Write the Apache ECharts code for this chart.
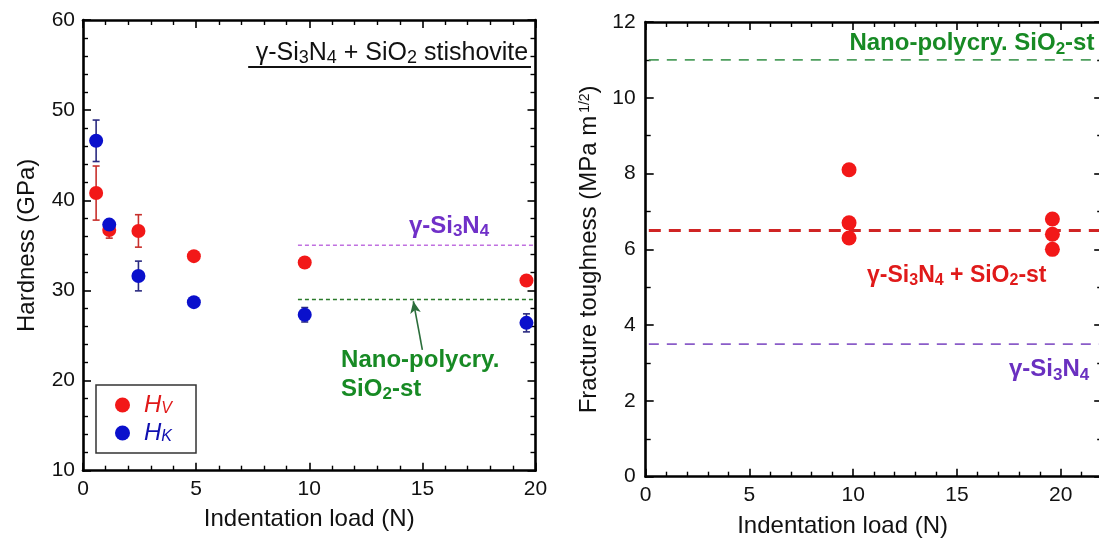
<!DOCTYPE html>
<html>
<head>
<meta charset="utf-8">
<script src="https://cdn.jsdelivr.net/npm/echarts@6/dist/echarts.min.js"></script>
<style>
html,body{margin:0;padding:0;background:#fff;}
#c{width:1099px;height:543px;}
</style>
</head>
<body>
<div id="c"></div>
<script>
// ---------- DATA ----------
const loads = [0.58, 1.16, 2.45, 4.9, 9.8, 19.6];
const hv = [40.8, 36.7, 36.6, 33.8, 33.1, 31.1];
const hvErr = [3.0, 0.9, 1.8, 0, 0, 0];
const hk = [46.6, 37.3, 31.6, 28.7, 27.3, 26.4];
const hkErr = [2.3, 0, 1.65, 0, 0.8, 1.0];

const kcLoads = [9.8, 9.8, 9.8, 19.6, 19.6, 19.6];
const kc = [8.1, 6.7, 6.3, 6.8, 6.4, 6.0];

const hardRefX = [9.5, 20];
const hardGammaRef = 35.0;
const hardNanoRef = 29.0;

const kcRefX = [0.15, 22];
const kcNanoRef = 11.0;
const kcCompRef = 6.5;
const kcGammaRef = 3.5;

const hardXTicks = {min: 0, max: 20, interval: 5};
const hardYTicks = {min: 10, max: 60, interval: 10};
const kcXTicks = {min: 0, max: 25, interval: 5};
const kcYTicks = {min: 0, max: 12, interval: 2};

// ---------- HELPERS ----------
const FONT = "'Liberation Sans', Arial, sans-serif";
const pairs = (xs, ys) => xs.map((x, i) => [x, ys[i]]);
const errData = (xs, ys, es) => xs.map((x, i) => [x, ys[i] - es[i], ys[i] + es[i]]).filter((d, i) => es[i] > 0);

function axisCommon(t, minorSplit, showLabel, pos) {
  return {
    type: 'value', min: t.min, max: t.max, interval: t.interval, position: pos,
    splitLine: {show: false},
    axisLine: {show: true, onZero: false, lineStyle: {color: '#000', width: 2.6}},
    axisTick: {show: true, inside: true, length: 8, lineStyle: {color: '#000', width: 1.6}},
    minorTick: {show: true, splitNumber: minorSplit, length: 5, lineStyle: {color: '#000', width: 1.4}},
    axisLabel: {show: showLabel, color: '#111', fontSize: 21, fontFamily: FONT, margin: 8},
  };
}

function errSeries(data, color, xi, yi) {
  return {
    type: 'custom', xAxisIndex: xi, yAxisIndex: yi, z: 2,
    encode: {x: 0, y: [1, 2]},
    data: data,
    renderItem: function (params, api) {
      const x = api.value(0);
      const lo = api.coord([x, api.value(1)]);
      const hi = api.coord([x, api.value(2)]);
      const w = 3.5;
      const st = {stroke: color, lineWidth: 1.6};
      return {type: 'group', children: [
        {type: 'line', shape: {x1: hi[0], y1: hi[1], x2: lo[0], y2: lo[1]}, style: st},
        {type: 'line', shape: {x1: hi[0] - w, y1: hi[1], x2: hi[0] + w, y2: hi[1]}, style: st},
        {type: 'line', shape: {x1: lo[0] - w, y1: lo[1], x2: lo[0] + w, y2: lo[1]}, style: st}
      ]};
    }
  };
}

function refLine(xs, y, color, width, dash, xi, yi) {
  return {
    type: 'line', xAxisIndex: xi, yAxisIndex: yi, symbol: 'none', silent: true, z: 1,
    data: [[xs[0], y], [xs[1], y]],
    lineStyle: {color: color, width: width, type: dash, opacity: 1}
  };
}

const rich = (size, color, bold) => ({
  n: {fontSize: size, color: color, fontWeight: bold ? 'bold' : 'normal', fontFamily: FONT, lineHeight: size + 4},
  s: {fontSize: Math.round(size * 0.7), color: color, fontWeight: bold ? 'bold' : 'normal', fontFamily: FONT, lineHeight: Math.round(size * 0.72), verticalAlign: 'bottom'}
});

function textItem(x, y, fmt, align, r) {
  return {
    value: [x, y],
    label: {show: true, position: [0, 0], align: align, verticalAlign: 'middle', formatter: fmt, rich: r, opacity: 1}
  };
}

function textSeries(items, xi, yi) {
  return {
    type: 'scatter', xAxisIndex: xi, yAxisIndex: yi, symbolSize: 1, silent: true, z: 5,
    itemStyle: {color: 'rgba(0,0,0,0)', opacity: 1},
    data: items
  };
}

const chart = echarts.init(document.getElementById('c'), null, {renderer: 'canvas'});

const option = {
  backgroundColor: '#fff',
  animation: false,
  grid: [
    {left: 83, top: 20, width: 452.5, height: 450.7, outerBoundsMode: 'none', containLabel: false},
    {left: 645.7, top: 22, width: 20.75 * 25, height: 454.7, outerBoundsMode: 'none', containLabel: false}
  ],
  legend: {
    data: [
      {name: 'Hv', textStyle: {color: '#e01818'}},
      {name: 'Hk', textStyle: {color: '#1010b0'}}
    ],
    orient: 'vertical', left: 96, top: 385,
    padding: [8, 24, 8, 19], itemGap: 4,
    itemWidth: 33, itemHeight: 15, icon: 'circle',
    borderColor: '#333', borderWidth: 1.5, borderRadius: 0,
    selectedMode: false,
    formatter: function (name) { return '{h|H}{s|' + (name === 'Hv' ? 'V' : 'K') + '}'; },
    textStyle: {
      fontFamily: FONT, fontSize: 24, lineHeight: 24,
      rich: {
        h: {fontSize: 24, fontStyle: 'italic', fontFamily: FONT, lineHeight: 24},
        s: {fontSize: 16, fontStyle: 'italic', fontFamily: FONT, lineHeight: 16, verticalAlign: 'bottom'}
      }
    }
  },
  xAxis: [
    Object.assign(axisCommon(hardXTicks, 5, true, 'bottom'), {gridIndex: 0,
      name: 'Indentation load (N)', nameLocation: 'middle', nameGap: 37,
      nameTextStyle: {fontSize: 24, color: '#111', fontFamily: FONT, verticalAlign: 'top'}}),
    Object.assign(axisCommon(hardXTicks, 5, false, 'top'), {gridIndex: 0}),
    Object.assign(axisCommon(kcXTicks, 5, true, 'bottom'), {gridIndex: 1,
      name: 'Indentation load (N)', nameLocation: 'middle', nameGap: 38,
      nameTextStyle: {fontSize: 24, color: '#111', fontFamily: FONT, verticalAlign: 'top', padding: [0, 125, 0, 0]}}),
    Object.assign(axisCommon(kcXTicks, 5, false, 'top'), {gridIndex: 1})
  ],
  yAxis: [
    Object.assign(axisCommon(hardYTicks, 5, true, 'left'), {gridIndex: 0,
      name: 'Hardness (GPa)', nameLocation: 'middle', nameGap: 44,
      nameTextStyle: {fontSize: 24, color: '#111', fontFamily: FONT}}),
    Object.assign(axisCommon(hardYTicks, 5, false, 'right'), {gridIndex: 0}),
    Object.assign(axisCommon(kcYTicks, 2, true, 'left'), {gridIndex: 1, axisLabel: {show: true, color: '#111', fontSize: 21, fontFamily: FONT, margin: 10},
      name: 'Fracture toughness (MPa m{sup|1/2})', nameLocation: 'middle', nameGap: 44,
      nameTextStyle: {fontSize: 24, color: '#111', fontFamily: FONT,
        rich: {sup: {fontSize: 14, color: '#111', fontFamily: FONT, verticalAlign: 'top', lineHeight: 14, padding: [0, 0, 0, 3]}}}}),
    Object.assign(axisCommon(kcYTicks, 2, false, 'right'), {gridIndex: 1, offset: -(20.75 * 3)})
  ],
  series: [
    // ----- left: hardness -----
    refLine(hardRefX, hardGammaRef, '#c070e0', 1.5, [4, 3], 0, 0),
    refLine(hardRefX, hardNanoRef, '#2a7a2a', 1.5, [4, 3], 0, 0),
    errSeries(errData(loads, hv, hvErr), '#c8302c', 0, 0),
    errSeries(errData(loads, hk, hkErr), '#2a2a80', 0, 0),
    {name: 'Hv', type: 'scatter', xAxisIndex: 0, yAxisIndex: 0, symbolSize: 14, z: 3,
      itemStyle: {color: '#f21818', opacity: 1}, data: pairs(loads, hv)},
    {name: 'Hk', type: 'scatter', xAxisIndex: 0, yAxisIndex: 0, symbolSize: 14, z: 4,
      itemStyle: {color: '#0a10cc', opacity: 1}, data: pairs(loads, hk)},
    Object.assign(textSeries([
      textItem(19.7, 56.3, '{n|γ-Si}{s|3}{n|N}{s|4}{n| + SiO}{s|2}{n| stishovite}', 'right', rich(25, '#111', false)),
      textItem(16.2, 37.1, '{n|γ-Si}{s|3}{n|N}{s|4}', 'center', rich(24, '#7030c8', true)),
      textItem(11.43, 22.2, '{n|Nano-polycry.}', 'left', rich(24, '#178a24', true)),
      textItem(11.43, 19.0, '{n|SiO}{s|2}{n|-st}', 'left', rich(24, '#178a24', true))
    ], 0, 0), {
      markLine: {
        silent: true, symbol: 'none', animation: false, label: {show: false},
        data: [
          [{coord: [7.3, 54.86], lineStyle: {color: '#111', width: 2, type: 'solid'}}, {coord: [19.8, 54.86]}],
          [{coord: [15.0, 23.4], symbol: 'none', lineStyle: {color: '#2b6e3b', width: 1.6, type: 'solid'}},
           {coord: [14.6, 28.8], symbol: 'arrow', symbolSize: [8, 12]}]
        ]
      }
    }),
    // ----- right: fracture toughness -----
    refLine(kcRefX, kcNanoRef, '#4e9e5e', 1.6, [10, 8], 2, 2),
    refLine(kcRefX, kcCompRef, '#d02424', 3, [12, 8], 2, 2),
    refLine(kcRefX, kcGammaRef, '#8a5cc8', 1.6, [10, 8], 2, 2),
    {name: 'Kc', type: 'scatter', xAxisIndex: 2, yAxisIndex: 2, symbolSize: 15, z: 3,
      itemStyle: {color: '#f21818', opacity: 1}, data: pairs(kcLoads, kc)},
    textSeries([
      textItem(21.65, 11.42, '{n|Nano-polycry. SiO}{s|2}{n|-st}', 'right', rich(24, '#178a24', true)),
      textItem(19.34, 5.3, '{n|γ-Si}{s|3}{n|N}{s|4}{n| + SiO}{s|2}{n|-st}', 'right', rich(23, '#e01a1a', true)),
      textItem(21.4, 2.82, '{n|γ-Si}{s|3}{n|N}{s|4}', 'right', rich(24, '#6a30c0', true))
    ], 2, 2)
  ]
};
chart.setOption(option);
</script>
</body>
</html>
